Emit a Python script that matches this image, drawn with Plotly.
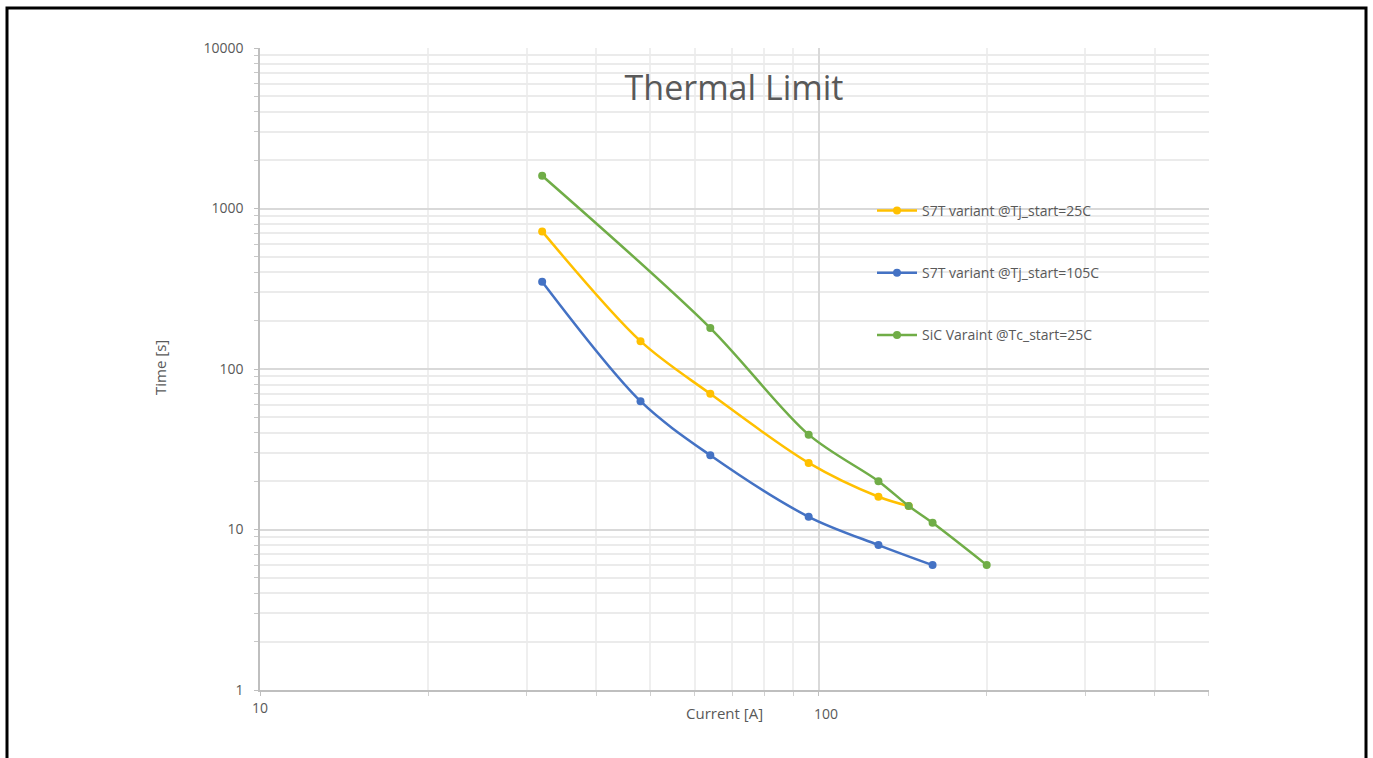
import plotly.graph_objects as go

# Data
x_s7t_25 = [32, 48, 64, 96, 128, 145]
y_s7t_25 = [720, 149, 70, 26, 16, 14]
x_s7t_105 = [32, 48, 64, 96, 128, 160]
y_s7t_105 = [350, 63, 29, 12, 8, 6]
x_sic = [32, 64, 96, 128, 145, 160, 200]
y_sic = [1600, 180, 39, 20, 14, 11, 6]

names = ["S7T variant @Tj_start=25C", "S7T variant @Tj_start=105C", "SiC Varaint @Tc_start=25C"]
colors = ["#FFC000", "#4472C4", "#70AD47"]

x_ticks = [10, 100]
y_ticks = [1, 10, 100, 1000, 10000]

fig = go.Figure()
for i, (xs, ys) in enumerate([(x_s7t_25, y_s7t_25), (x_s7t_105, y_s7t_105), (x_sic, y_sic)]):
    fig.add_trace(go.Scatter(
        x=xs, y=ys, name=names[i], mode="lines+markers",
        line=dict(color=colors[i], width=2.5, shape="spline", smoothing=0.9),
        marker=dict(color=colors[i], size=8),
        legendgroup=f"g{i}",
    ))

W, H = 1373, 758
L, R, T, B = 260, 164, 48, 68
pw, ph = W - L - R, H - T - B

fig.update_layout(
    width=W, height=H,
    margin=dict(l=L, r=R, t=T, b=B),
    paper_bgcolor="white", plot_bgcolor="white",
    font=dict(family="Open Sans, Calibri, sans-serif", color="#595959", size=13),
    title=dict(text="Thermal Limit", x=734 / W, xanchor="center",
               y=1 - 88 / H, yanchor="middle", font=dict(size=34, color="#595959")),
    showlegend=True,
    legend=dict(x=(872 - L) / pw, y=(690 - 195) / ph, xanchor="left", yanchor="top",
                bgcolor="rgba(0,0,0,0)", font=dict(size=14, color="#595959"),
                traceorder="grouped", tracegroupgap=41, itemwidth=40),
    xaxis=dict(type="log", range=[1, 2.699], tickvals=x_ticks, ticktext=["10", ""],
               showgrid=True, gridcolor="#D9D9D9", gridwidth=1.5,
               showline=True, linecolor="#BFBFBF", linewidth=1.5,
               ticks="outside", ticklen=4, tickcolor="#BFBFBF",
               minor=dict(dtick="D1", showgrid=True, gridcolor="#EFEFEF", ticks="outside", ticklen=4, tickcolor="#D0D0D0"),
               tickfont=dict(size=14, color="#595959"), zeroline=False),
    yaxis=dict(type="log", range=[0, 4], tickvals=y_ticks,
               ticktext=["1", "10", "100", "1000", "10000"],
               showgrid=True, gridcolor="#D9D9D9", gridwidth=1.5,
               showline=True, linecolor="#BFBFBF", linewidth=1.5,
               ticks="outside", ticklen=4, tickcolor="#BFBFBF",
               minor=dict(dtick="D1", showgrid=True, gridcolor="#EBEBEB", ticks="outside", ticklen=4, tickcolor="#C8C8C8"),
               tickfont=dict(size=14, color="#595959"), zeroline=False, ticklabelstandoff=8),
    shapes=[dict(type="rect", xref="paper", yref="paper",
                 x0=(7 - L) / pw, x1=(1366 - L) / pw,
                 y0=-0.15, y1=(690 - 8) / ph,
                 line=dict(color="black", width=3), fillcolor="rgba(0,0,0,0)", layer="above")],
    annotations=[
        dict(text="Current [A]", xref="paper", yref="paper", x=(724 - L) / pw, y=-(713 - 690) / ph,
             xanchor="center", yanchor="middle", showarrow=False, font=dict(size=15, color="#595959")),
        dict(text="100", xref="paper", yref="paper", x=(826 - L) / pw, y=-(713 - 690) / ph,
             xanchor="center", yanchor="middle", showarrow=False, font=dict(size=14, color="#595959")),
        dict(text="Time [s]", xref="paper", yref="paper", x=(160 - L) / pw, y=(690 - 368) / ph,
             xanchor="center", yanchor="middle", showarrow=False, textangle=-90,
             font=dict(size=15, color="#595959")),
    ],
)

fig.write_html("out.html")
